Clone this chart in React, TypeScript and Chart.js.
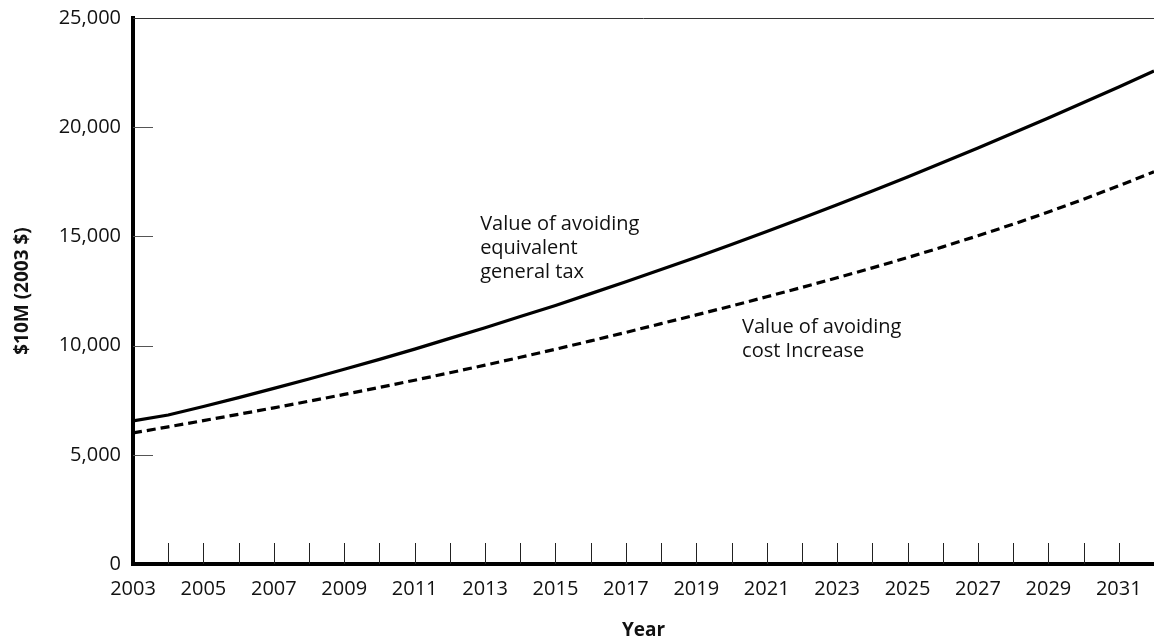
import React, { useEffect, useRef } from "react";
import { Chart, registerables } from "chart.js";

Chart.register(...registerables);

// ---------- data ----------
const years = [
  2003, 2004, 2005, 2006, 2007, 2008, 2009, 2010, 2011, 2012, 2013, 2014, 2015, 2016, 2017,
  2018, 2019, 2020, 2021, 2022, 2023, 2024, 2025, 2026, 2027, 2028, 2029, 2030, 2031, 2032,
];
const generalTaxValue = [
  6550, 6820, 7210, 7620, 8040, 8470, 8920, 9370, 9840, 10330, 10820, 11330, 11840, 12380, 12920,
  13480, 14050, 14630, 15220, 15830, 16450, 17080, 17720, 18380, 19050, 19730, 20420, 21130, 21840, 22570,
];
const costIncreaseValue = [
  6000, 6280, 6565, 6855, 7150, 7455, 7765, 8085, 8415, 8755, 9105, 9465, 9835, 10215, 10605,
  11005, 11405, 11815, 12235, 12665, 13105, 13560, 14030, 14520, 15030, 15560, 16115, 16700, 17315, 17960,
];
const xTickLabels = [
  "2003", "2005", "2007", "2009", "2011", "2013", "2015", "2017", "2019", "2021", "2023", "2025",
  "2027", "2029", "2031",
];
const yTickValues = [0, 5000, 10000, 15000, 20000, 25000];
const generalTaxLabel = ["Value of avoiding", "equivalent", "general tax"];
const costIncreaseLabel = ["Value of avoiding", "cost Increase"];
const xTitle = "Year";
const yTitle = "$10M (2003 $)";

const FONT = "'Open Sans', 'DejaVu Sans', sans-serif";

const decorPlugin = {
  id: "decor",
  afterDraw(chart: any) {
    const { ctx, chartArea, scales } = chart;
    const xs = scales.x;
    const ys = scales.y;
    ctx.save();
    // top frame line
    ctx.strokeStyle = "#333";
    ctx.lineWidth = 1;
    ctx.beginPath();
    ctx.moveTo(chartArea.left, Math.round(chartArea.top) + 0.5);
    ctx.lineTo(chartArea.right, Math.round(chartArea.top) + 0.5);
    ctx.stroke();
    // inner x ticks (every year)
    ctx.strokeStyle = "#222";
    ctx.beginPath();
    for (const yr of years) {
      if (yr === years[0] || yr === years[years.length - 1]) continue;
      const px = Math.round(xs.getPixelForValue(yr)) + 0.5;
      ctx.moveTo(px, chartArea.bottom);
      ctx.lineTo(px, chartArea.bottom - 21);
    }
    ctx.stroke();
    // inner y ticks
    ctx.strokeStyle = "#555";
    ctx.beginPath();
    for (const v of yTickValues) {
      if (v === yTickValues[0] || v === yTickValues[yTickValues.length - 1]) continue;
      const py = Math.round(ys.getPixelForValue(v)) + 0.5;
      ctx.moveTo(chartArea.left, py);
      ctx.lineTo(chartArea.left + 20, py);
    }
    ctx.stroke();
    // annotations
    ctx.fillStyle = "#111";
    ctx.font = `20px ${FONT}`;
    ctx.textAlign = "left";
    ctx.textBaseline = "alphabetic";
    const drawLines = (lines: string[], xv: number, yv: number) => {
      const x0 = xs.getPixelForValue(xv);
      const y0 = ys.getPixelForValue(yv);
      lines.forEach((t, i) => ctx.fillText(t, x0, y0 + i * 24));
    };
    drawLines(generalTaxLabel, 2012.86, 15290);
    drawLines(costIncreaseLabel, 2020.3, 10580);
    ctx.restore();
  },
};

export default function App() {
  const ref = useRef<HTMLCanvasElement | null>(null);
  useEffect(() => {
    document.body.style.margin = "0";
    if (!ref.current) return;
    const chart = new Chart(ref.current, {
      type: "line",
      data: {
        datasets: [
          {
            label: "Value of avoiding equivalent general tax",
            data: years.map((y, i) => ({ x: y, y: generalTaxValue[i] })),
            borderColor: "#000",
            borderWidth: 3.2,
            pointRadius: 0,
            tension: 0,
            fill: false,
          },
          {
            label: "Value of avoiding cost Increase",
            data: years.map((y, i) => ({ x: y, y: costIncreaseValue[i] })),
            borderColor: "#000",
            borderWidth: 3.2,
            borderDash: [9, 5],
            pointRadius: 0,
            tension: 0,
            fill: false,
          },
        ],
      },
      options: {
        animation: false,
        responsive: false,
        devicePixelRatio: 1,
        layout: { padding: { top: 18, left: 0, right: 0, bottom: 0 } },
        plugins: { legend: { display: false }, tooltip: { enabled: false } },
        scales: {
          x: {
            type: "linear",
            min: years[0],
            max: years[years.length - 1],
            grid: { display: false, drawTicks: false },
            border: { display: true, color: "#000", width: 4 },
            ticks: {
              stepSize: 1,
              autoSkip: false,
              maxRotation: 0,
              minRotation: 0,
              padding: 13,
              color: "#111",
              font: { family: FONT, size: 20 },
              callback: (v: any) => (xTickLabels.includes(String(v)) ? String(v) : ""),
            },
            title: {
              display: true,
              text: xTitle,
              color: "#111",
              font: { family: FONT, size: 19, weight: "bold", lineHeight: 1 },
              padding: { top: 0, bottom: 0 },
            },
            afterFit: (s: any) => {
              s.height = 76;
              s.paddingLeft = 0;
              s.paddingRight = 0;
            },
          },
          y: {
            min: 0,
            max: 25000,
            grid: { display: false, drawTicks: false },
            border: { display: true, color: "#000", width: 4 },
            ticks: {
              stepSize: 5000,
              padding: 12,
              color: "#111",
              font: { family: FONT, size: 20 },
              callback: (v: any) => Number(v).toLocaleString("en-US"),
            },
            title: {
              display: true,
              text: yTitle,
              color: "#111",
              font: { family: FONT, size: 19, weight: "bold", lineHeight: 1 },
              padding: { top: 13, bottom: 0 },
            },
            afterFit: (s: any) => {
              s.width = 133;
              s.paddingTop = 0;
              s.paddingBottom = 0;
            },
          },
        },
      },
      plugins: [decorPlugin],
    });
    return () => chart.destroy();
  }, []);
  return (
    <div style={{ position: "fixed", left: 0, top: 0, width: 1154, height: 640, background: "#fff", overflow: "hidden" }}>
      <canvas ref={ref} width={1154} height={640} style={{ width: 1154, height: 640 }} />
    </div>
  );
}
